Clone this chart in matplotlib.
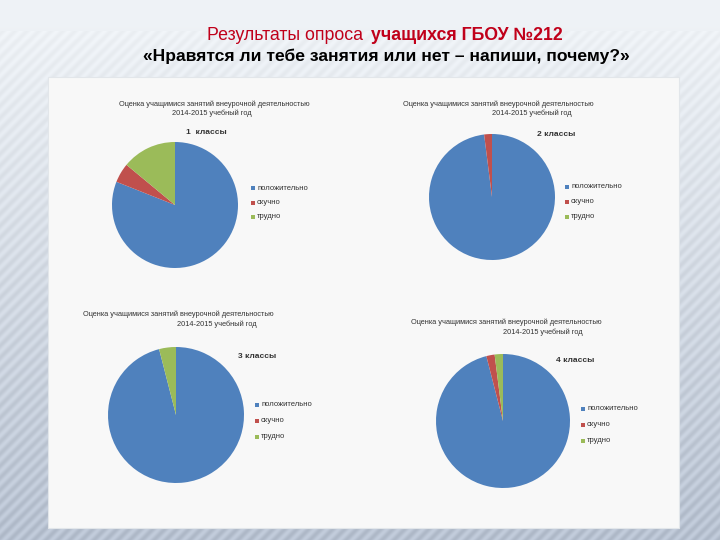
import numpy as np
import matplotlib.pyplot as plt
from matplotlib.patches import Rectangle

plt.rcParams['font.family'] = ['Liberation Sans', 'DejaVu Sans']

# Data ........................................................................
categories = ["положительно", "скучно", "трудно"]
colors = ["#4F81BD", "#C0504D", "#9BBB59"]

grade_labels = ["1  классы", "2 классы", "3 классы", "4 классы"]
grade_1 = [81, 5, 14]
grade_2 = [98, 2, 0]
grade_3 = [96, 0, 4]
grade_4 = [96, 2, 2]
grades = [grade_1, grade_2, grade_3, grade_4]

chart_title = "Оценка учащимися занятий внеурочной деятельностью"
chart_year = "2014-2015 учебный год"

W, H = 720, 540

def fx(x):
    return x / W

def fy(y):
    return 1 - y / H

fig = plt.figure(figsize=(7.2, 5.4), dpi=100)

# Slide background: gradient with diagonal stripes ............................
bg = fig.add_axes([0, 0, 1, 1])
yy, xx = np.mgrid[0:H, 0:W]
t = np.clip((yy - 25) / (H - 25), 0, 1)
stripes = 0.5 + 0.5 * np.sin(2 * np.pi * (xx + yy) / 12.0)
stripes = np.where(yy > 30, stripes, 0.5)
top = np.array([0.935, 0.950, 0.965])
bot = np.array([0.72, 0.76, 0.82])
img = top[None, None, :] * (1 - t[..., None]) + bot[None, None, :] * t[..., None]
img = img + (stripes[..., None] - 0.5) * (0.03 + 0.05 * t[..., None])
bg.imshow(np.clip(img, 0, 1), extent=[0, W, H, 0], aspect="auto")
bg.set_xlim(0, W)
bg.set_ylim(H, 0)
bg.axis("off")

# White panel with the charts
bg.add_patch(Rectangle((48, 77), 631, 451, facecolor="#f8f8f8", edgecolor="#e2e6ea", lw=0.8))

# Main title ..................................................................
red = "#C0001A"
fig.text(fx(368), fy(36), "Результаты опроса ", ha="right", va="center", fontsize=12.8, color=red)
fig.text(fx(371), fy(36), "учащихся ГБОУ №212", ha="left", va="center", fontsize=12.8,
         color=red, fontweight="bold")
fig.text(fx(386), fy(56), "«Нравятся ли тебе занятия или нет – напиши, почему?»", ha="center",
         va="center", fontsize=12.6, color="black", fontweight="bold")

# Pie charts ..................................................................
pie_centers = [(175, 205, 63), (492, 197, 63), (176, 415, 68), (503, 421, 67)]
title_pos = [((214, 104), (212, 113)), ((403, 104), (492, 113)),
             ((83, 314), (177, 324)), ((411, 322), (503, 332))]
title_align = ["center", "left", "left", "left"]
grade_pos = [(206, 133), (556, 134), (257, 356), (575, 360)]
legend_pos = [(253, 188, 14.5), (567, 187, 15), (257, 405, 16), (583, 409, 16)]

for values, (cx, cy, r), (l1, l2), al, gp, lp, glabel in zip(
        grades, pie_centers, title_pos, title_align, grade_pos, legend_pos, grade_labels):
    ax = fig.add_axes([fx(cx - r), fy(cy + r), 2 * r / W, 2 * r / H])
    ax.pie(values, colors=colors, startangle=90, counterclock=False,
           wedgeprops={"linewidth": 0})
    ax.set_xlim(-1, 1)
    ax.set_ylim(-1, 1)
    ax.axis("off")

    fig.text(fx(l1[0]), fy(l1[1]), chart_title, ha=al, va="center", fontsize=5.3, color="#333333")
    fig.text(fx(l2[0]), fy(l2[1]), chart_year, ha=al, va="center", fontsize=5.3, color="#333333")
    fig.text(fx(gp[0]), fy(gp[1]), glabel, ha="center", va="center", fontsize=6, fontweight="bold",
             color="#333333")

    # Legend
    lx, ly, step = lp
    for i, (cat, col) in enumerate(zip(categories, colors)):
        yrow = ly + i * step
        fig.patches.append(Rectangle((fx(lx - 2), fy(yrow + 2)), 4 / W, 4 / H,
                                     facecolor=col, edgecolor="none",
                                     transform=fig.transFigure, figure=fig))
        fig.text(fx(lx + 4), fy(yrow), cat, ha="left", va="center", fontsize=5.5, color="#333333")

plt.savefig("out.png", dpi=100)
